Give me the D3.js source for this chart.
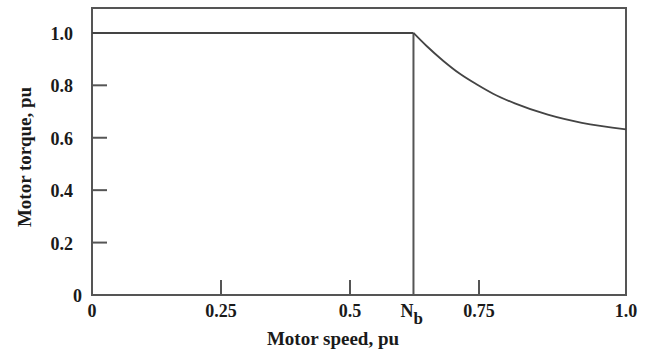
<!doctype html>
<html lang="en">
<head>
  <meta charset="utf-8">
  <title>Motor torque vs speed</title>
  <script src="https://cdn.jsdelivr.net/npm/d3@7"></script>
  <style>
    body{margin:0;background:#fff}
    text{font-family:"Liberation Serif","Times New Roman",serif;font-weight:bold;fill:#1a1a1a}
  </style>
</head>
<body>
<div id="chart"></div>
<script>
// values
var xTicks = [0, 0.25, 0.5, 0.75, 1.0],
    xTickLabels = ["0", "0.25", "0.5", "0.75", "1.0"],
    yTicks = [0, 0.2, 0.4, 0.6, 0.8, 1.0],
    yTickLabels = ["0", "0.2", "0.4", "0.6", "0.8", "1.0"],
    baseSpeed = 0.623,
    // constant torque up to N_b, then it falls off
    speed = [0, 0.623, 0.649, 0.681, 0.713, 0.746, 0.774, 0.811, 0.867, 0.925, 1.0],
    torque = [1.0, 1.0, 0.949, 0.893, 0.844, 0.803, 0.768, 0.731, 0.688, 0.657, 0.632];

var W = 653, H = 352;
var svg = d3.select("#chart").append("svg").attr("width", W).attr("height", H);

// tick spacing in the drawing isn't even, so piecewise scale
var x = d3.scaleLinear().domain(xTicks).range([92, 221, 350, 479, 626]),
    y = d3.scaleLinear().domain([0, 1.095]).range([295, 8]);

var stroke = "#555";

// frame
svg.append("rect")
    .attr("x", x(0)).attr("y", y(1.095))
    .attr("width", x(1) - x(0)).attr("height", y(0) - y(1.095))
    .attr("fill", "none").attr("stroke", stroke).attr("stroke-width", 2);

// y ticks, pointing inward
svg.selectAll("line.ytick").data(yTicks.filter(function (d) { return d > 0 && d < 1; }))
    .enter().append("line").attr("class", "ytick")
    .attr("x1", x(0)).attr("x2", x(0) + 15)
    .attr("y1", function (d) { return y(d); }).attr("y2", function (d) { return y(d); })
    .attr("stroke", stroke).attr("stroke-width", 2);

svg.selectAll("text.ylab").data(yTicks)
    .enter().append("text").attr("class", "ylab")
    .attr("x", function (d) { return d === 0 ? 82 : 73; })
    .attr("y", function (d) { return y(d) + 7; })
    .attr("text-anchor", "end").attr("font-size", 18)
    .text(function (d, i) { return yTickLabels[i]; });

// x ticks, pointing inward
svg.selectAll("line.xtick").data(xTicks.filter(function (d) { return d > 0 && d < 1; }))
    .enter().append("line").attr("class", "xtick")
    .attr("x1", function (d) { return x(d); }).attr("x2", function (d) { return x(d); })
    .attr("y1", y(0)).attr("y2", y(0) - 15)
    .attr("stroke", stroke).attr("stroke-width", 2);

svg.selectAll("text.xlab").data(xTicks)
    .enter().append("text").attr("class", "xlab")
    .attr("x", function (d) { return x(d); })
    .attr("y", 317)
    .attr("text-anchor", "middle").attr("font-size", 18)
    .text(function (d, i) { return xTickLabels[i]; });

// N_b marker
svg.append("line")
    .attr("x1", x(baseSpeed)).attr("x2", x(baseSpeed))
    .attr("y1", y(0)).attr("y2", y(1.0))
    .attr("stroke", stroke).attr("stroke-width", 2);

var nb = svg.append("text").attr("x", x(baseSpeed) - 13).attr("y", 317)
    .attr("font-size", 18);
nb.append("tspan").text("N");
nb.append("tspan").attr("dy", 7).attr("font-size", 17).text("b");

// torque curve
svg.append("path").datum(torque.slice(0, 2))
    .attr("d", d3.line()
        .x(function (d, i) { return x(speed[i]); })
        .y(function (d) { return y(d); }))
    .attr("fill", "none").attr("stroke", "#444").attr("stroke-width", 2);

svg.append("path").datum(torque.slice(1))
    .attr("d", d3.line()
        .x(function (d, i) { return x(speed[i + 1]); })
        .y(function (d) { return y(d); })
        .curve(d3.curveMonotoneX))
    .attr("fill", "none").attr("stroke", "#444").attr("stroke-width", 1.8);

// axis titles
svg.append("text").attr("x", 333).attr("y", 345)
    .attr("text-anchor", "middle").attr("font-size", 19)
    .text("Motor speed, pu");

svg.append("text")
    .attr("transform", "translate(31,157) rotate(-90)")
    .attr("text-anchor", "middle").attr("font-size", 19)
    .text("Motor torque, pu");
</script>
</body>
</html>
